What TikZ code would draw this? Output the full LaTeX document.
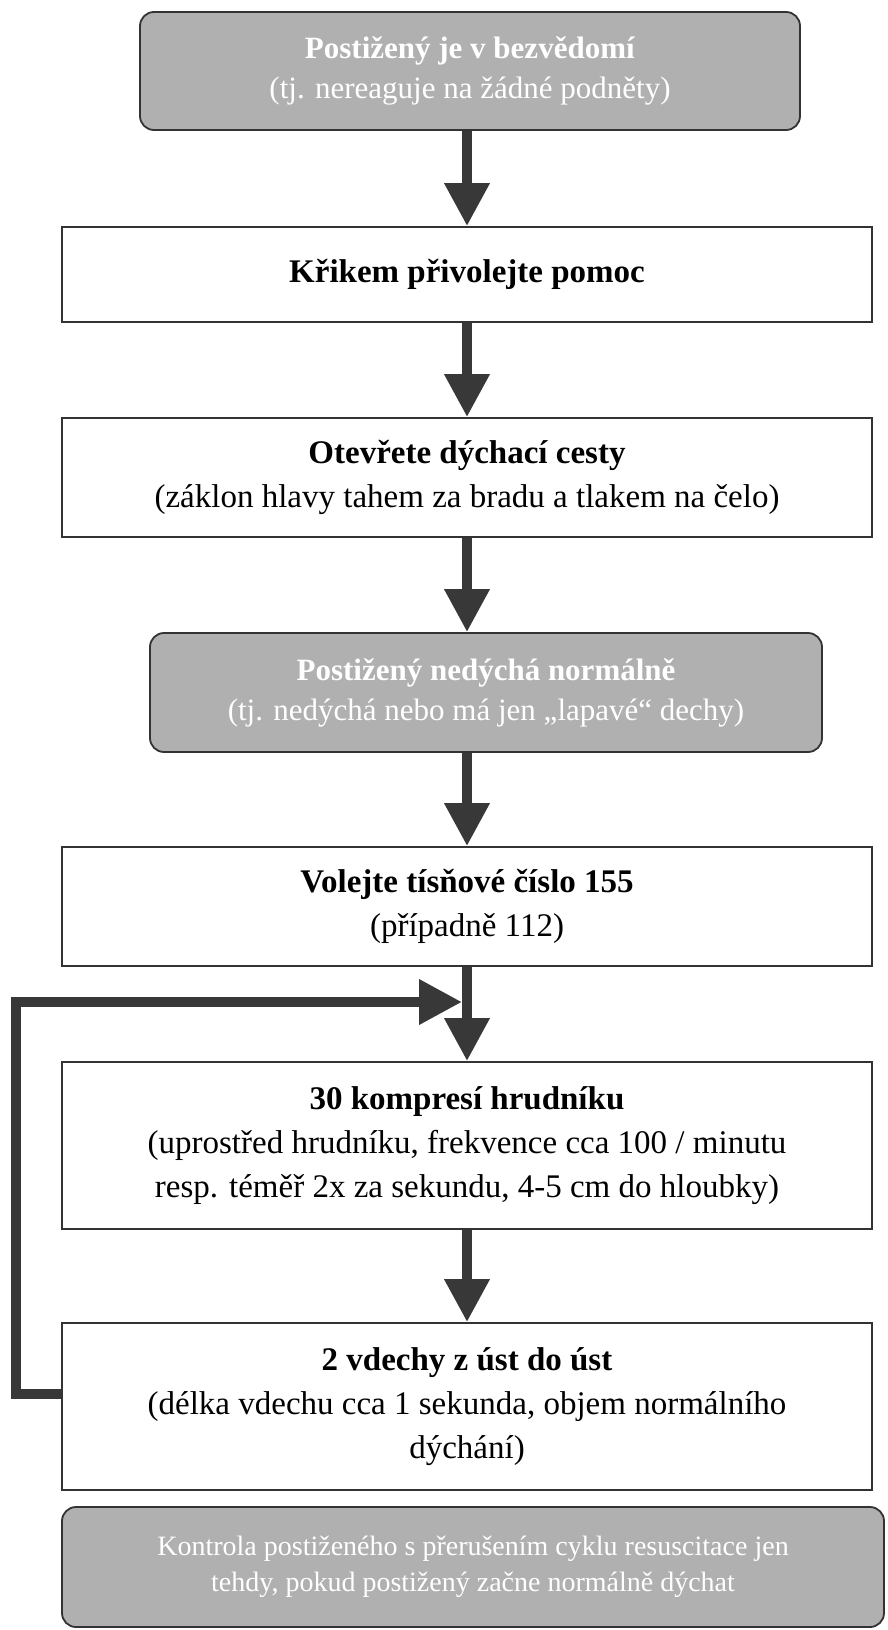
\documentclass[tikz,border=0pt]{standalone}
\usepackage{fontspec}
\setmainfont{Liberation Serif}
\usetikzlibrary{positioning,arrows.meta}
\tikzset{
	box/.style={draw=black!80, line width=1.8pt, fill=white, align=center,
		inner sep=0pt, font=\fontsize{33}{44}\selectfont},
	grey/.style={box, rounded corners=14pt, fill=black!31, text=white,
		font=\fontsize{31}{40}\selectfont},
	pipe/.style={draw=black!78, line width=10pt,
		-{Triangle[length=43pt,width=43pt]}},
}
\begin{document}
\begin{tikzpicture}[x=1pt,y=-1pt]
	\useasboundingbox (0,0) rectangle (888,1630);
	\node[grey, minimum width=660pt, minimum height=118pt] (uncon) at (470,71)
		{\textbf{Postižený je v bezvědomí}\\(tj. nereaguje na žádné podněty)};
	\node[box, minimum width=810pt, minimum height=95pt] (shout) at (467,274.5)
		{\textbf{Křikem přivolejte pomoc}};
	\node[box, minimum width=810pt, minimum height=119pt] (airway) at (467,477.5)
		{\textbf{Otevřete dýchací cesty}\\(záklon hlavy tahem za bradu a tlakem na čelo)};
	\node[grey, minimum width=672pt, minimum height=119pt] (nobreath) at (486,692.5)
		{\textbf{Postižený nedýchá normálně}\\(tj. nedýchá nebo má jen „lapavé“ dechy)};
	\node[box, minimum width=810pt, minimum height=119pt] (call) at (467,906.5)
		{\textbf{Volejte tísňové číslo 155}\\(případně 112)};
	\node[box, minimum width=810pt, minimum height=167pt] (cpr) at (467,1145.5)
		{\textbf{30 kompresí hrudníku}\\(uprostřed hrudníku, frekvence cca 100 / minutu\\resp. téměř 2x za sekundu, 4-5 cm do hloubky)};
	\node[box, minimum width=810pt, minimum height=167pt] (breaths) at (467,1406.5)
		{\textbf{2 vdechy z úst do úst}\\(délka vdechu cca 1 sekunda, objem normálního\\dýchání)};
	\node[grey, minimum width=822pt, minimum height=120pt, font=\fontsize{28}{36}\selectfont]
		(check) at (473,1567)
		{Kontrola postiženého s přerušením cyklu resuscitace jen\\tehdy, pokud postižený začne normálně dýchat};
	\coordinate (loopin) at (462,1002);

	\draw[pipe] (uncon.south -| shout.north) -- (shout.north);
	\draw[pipe] (shout) -- (airway);
	\draw[pipe] (airway.south) -- (nobreath.north -| airway.south);
	\draw[pipe] (nobreath.south -| call.north) -- (call.north);
	\draw[pipe] (call) -- (cpr);
	\draw[pipe] (cpr) -- (breaths);
	\draw[pipe] ([yshift=13pt]breaths.west) -- ++(-45,0) |- (loopin);
\end{tikzpicture}
\end{document}
